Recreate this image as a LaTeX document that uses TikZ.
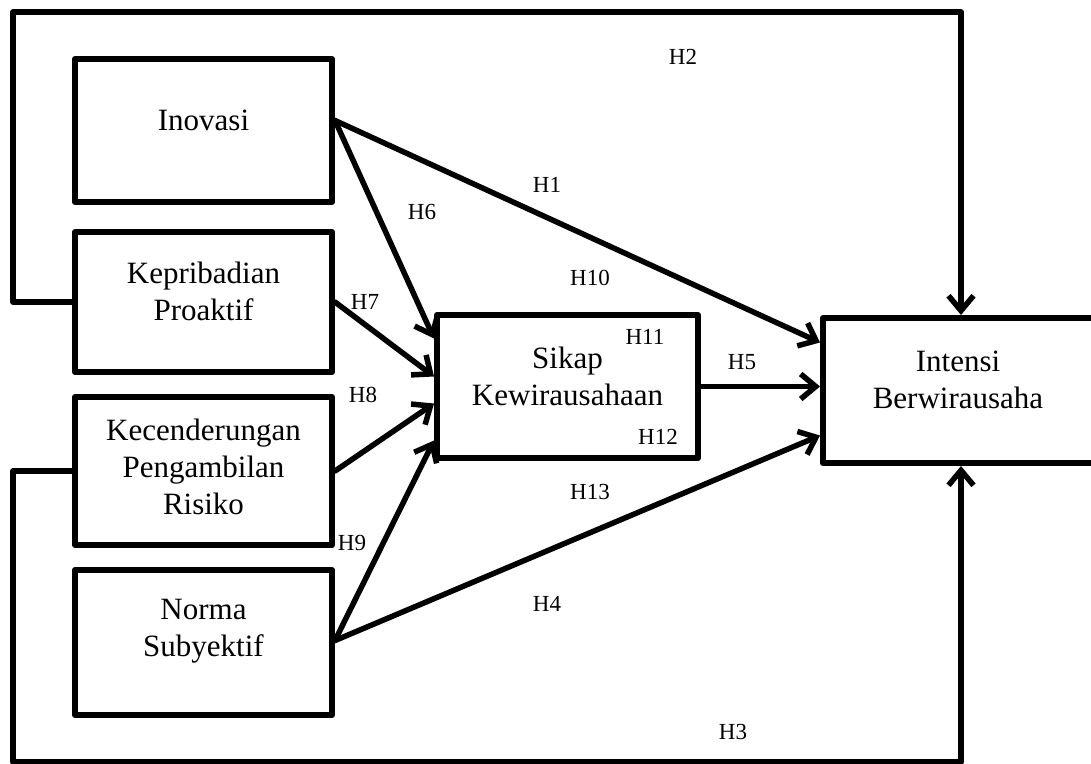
\documentclass[tikz,border=0pt]{standalone}
\usepackage{fontspec}
\setmainfont{Liberation Serif}
\usetikzlibrary{arrows.meta,calc}
\begin{document}
\begin{tikzpicture}[x=1pt,y=-1pt,
  box/.style={draw,line width=6pt,rectangle,inner sep=0pt,line join=round},
  boxtext/.style={align=center,font=\fontsize{31}{37}\selectfont,inner sep=0pt},
  hlab/.style={font=\fontsize{23}{27}\selectfont,inner sep=0pt},
  conn/.style={line width=5.5pt,line cap=round,line join=round},
  arr/.style={conn,-{Straight Barb[length=15pt,width=25pt,line width=5.5pt]}}]
\useasboundingbox (0,0) rectangle (1091,763);
\clip (0,0) rectangle (1091,763);
\fill[white] (0,0) rectangle (1091,763);
% boxes
\node[box,minimum width=257pt,minimum height=143pt] (ino) at (203.5,130.5) {};
\node[box,minimum width=257pt,minimum height=140pt] (kep) at (203.5,302) {};
\node[box,minimum width=257pt,minimum height=148pt] (kec) at (203.5,471) {};
\node[box,minimum width=257pt,minimum height=145pt] (nor) at (203.5,642.5) {};
\node[box,minimum width=261pt,minimum height=143pt] (sik) at (567.5,386.5) {};
\node[box,minimum width=327pt,minimum height=145pt] (int) at (986.5,390.5) {};
% box texts
\node[boxtext] (tino) at (203.5,120) {Inovasi};
\node[boxtext] (tkep) at (203.5,291) {Kepribadian\\Proaktif};
\node[boxtext] (tkec) at (203.5,467) {Kecenderungan\\Pengambilan\\Risiko};
\node[boxtext] (tnor) at (203.5,631) {Norma\\Subyektif};
\node[boxtext] (tsik) at (567.5,376) {Sikap\\Kewirausahaan};
\node[boxtext] (tint) at (958,380) {Intensi\\Berwirausaha};
% loops
\coordinate (tl) at (13,12);
\coordinate (tr) at (961,12);
\coordinate (bl) at (13,762);
\coordinate (br) at (961,762);
\draw[arr] (kep.west) -| (tl) -- (tr) -- (tr |- int.north);
\draw[arr] (kec.west) -| (bl) -- (br) -- (br |- int.south);
% arrows
\draw[arr] ($(ino.east)+(0,-10)$) -- ($(int.west)+(0,-48)$);
\draw[arr] ($(ino.east)+(0,-10)$) -- ($(sik.west)+(0,-48)$);
\draw[arr] (kep.east) -- ($(sik.west)+(0,-10)$);
\draw[arr] (kec.east) -- ($(sik.west)+(0,17)$);
\draw[arr] ($(nor.east)+(0,-2)$) -- ($(sik.west)+(0,54)$);
\draw[arr] ($(nor.east)+(0,-2)$) -- ($(int.west)+(0,45)$);
\draw[arr] (sik.east) -- (sik.east -| int.west);
% labels
\node[hlab] (h2) at (683,57) {H2};
\node[hlab] (h1) at (547,185) {H1};
\node[hlab] (h6) at (422,212) {H6};
\node[hlab] (h10) at (590,278) {H10};
\node[hlab] (h7) at (365,302) {H7};
\node[hlab] (h11) at (645,337) {H11};
\node[hlab] (h5) at (742,362) {H5};
\node[hlab] (h8) at (363,395) {H8};
\node[hlab] (h12) at (658,437) {H12};
\node[hlab] (h13) at (590,492) {H13};
\node[hlab] (h9) at (352,543) {H9};
\node[hlab] (h4) at (547,604) {H4};
\node[hlab] (h3) at (733,732) {H3};
\end{tikzpicture}
\end{document}
